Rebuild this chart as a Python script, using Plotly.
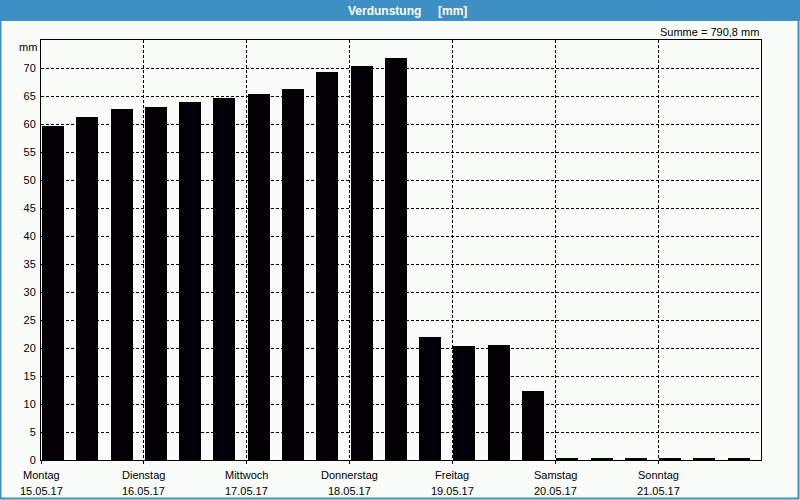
import plotly.graph_objects as go

# ---- data ----
values = [59.7, 61.2, 62.6, 63.1, 64.0, 64.7, 65.4, 66.3, 69.2, 70.3, 71.7,
          22.0, 20.3, 20.6, 12.4, 0.2, 0.4, 0.2, 0.2, 0.4, 0.4]
day_names = ["Montag", "Dienstag", "Mittwoch", "Donnerstag", "Freitag", "Samstag", "Sonntag"]
day_dates = ["15.05.17", "16.05.17", "17.05.17", "18.05.17", "19.05.17", "20.05.17", "21.05.17"]
bars_per_day = 3
y_ticks = list(range(0, 75, 5))
title_text = "Verdunstung\u00a0\u00a0\u00a0\u00a0\u00a0[mm]"
sum_text = "Summe = 790,8 mm"
unit_text = "mm"

W, H = 800, 500
ML, MR, MT, MB = 41, 39, 40, 40
PW, PH = W - ML - MR, H - MT - MB

FONT = "Liberation Sans"
BLUE = "#3d8fc4"
BG = "#fafcfa"

n = len(values)
x_idx = list(range(n))
day_pos = [i * bars_per_day for i in range(len(day_names))]

fig = go.Figure()
fig.add_trace(go.Bar(
    x=x_idx, y=values, width=0.64, offset=0.03,
    marker=dict(color="#030005", line=dict(width=0)),
    hoverinfo="skip",
))

fig.update_layout(
    width=W, height=H,
    margin=dict(l=ML, r=MR, t=MT, b=MB, pad=0),
    paper_bgcolor=BG, plot_bgcolor=BG,
    showlegend=False,
    font=dict(family=FONT, size=11, color="#000000"),
    bargap=0,
)

fig.update_xaxes(
    range=[0, n], tickmode="array", tickvals=day_pos, ticktext=[""] * len(day_pos),
    showgrid=True, gridcolor="#000000", gridwidth=1, griddash="3px,2px",
    showline=True, linecolor="#000000", linewidth=1, mirror=True,
    ticks="outside", ticklen=3, tickcolor="#000000", zeroline=False,
    fixedrange=True,
)
fig.update_yaxes(
    range=[0, 75], tickmode="array", tickvals=y_ticks,
    ticktext=[str(v) for v in y_ticks],
    showgrid=True, gridcolor="#000000", gridwidth=1, griddash="3px,2px",
    showline=True, linecolor="#000000", linewidth=1, mirror=True,
    ticks="", zeroline=False, tickfont=dict(family=FONT, size=11),
    ticklabelstandoff=2, fixedrange=True,
)

shapes = []
# title bar
shapes.append(dict(type="rect", xref="paper", yref="paper",
                   x0=-ML / PW, x1=1 + MR / PW,
                   y0=1 + (MT - 21) / PH, y1=1 + MT / PH,
                   fillcolor=BLUE, line=dict(width=0), layer="below"))
# outer border
shapes.append(dict(type="rect", xref="paper", yref="paper",
                   x0=(-ML + 0.5) / PW, x1=1 + (MR - 1.5) / PW,
                   y0=-(MB - 1.5) / PH, y1=1 + MT / PH,
                   fillcolor="rgba(0,0,0,0)", line=dict(width=2, color=BLUE), layer="below"))
fig.update_layout(shapes=shapes)

ann = []
ann.append(dict(text="<b>" + title_text + "</b>", xref="paper", yref="paper",
                x=(407 - ML) / PW, y=1 + (MT - 10.5) / PH, xanchor="center", yanchor="middle",
                showarrow=False, font=dict(family=FONT, size=12, color="#ffffff")))
ann.append(dict(text=sum_text, xref="paper", yref="paper", x=1, y=1, yshift=8,
                xanchor="right", yanchor="middle", showarrow=False,
                font=dict(family=FONT, size=11)))
ann.append(dict(text=unit_text, xref="paper", yref="paper", x=0, xshift=-2, y=1, yshift=-6.5,
                xanchor="right", yanchor="middle", showarrow=False,
                font=dict(family=FONT, size=11)))
for p, name, date in zip(day_pos, day_names, day_dates):
    ann.append(dict(text=name, xref="x", yref="paper", x=p, y=0, yshift=-15,
                    xanchor="center", yanchor="middle", showarrow=False,
                    font=dict(family=FONT, size=11)))
    ann.append(dict(text=date, xref="x", yref="paper", x=p, y=0, yshift=-31,
                    xanchor="center", yanchor="middle", showarrow=False,
                    font=dict(family=FONT, size=11)))
fig.update_layout(annotations=ann)

fig.write_html("out.html", config={"displayModeBar": False})
